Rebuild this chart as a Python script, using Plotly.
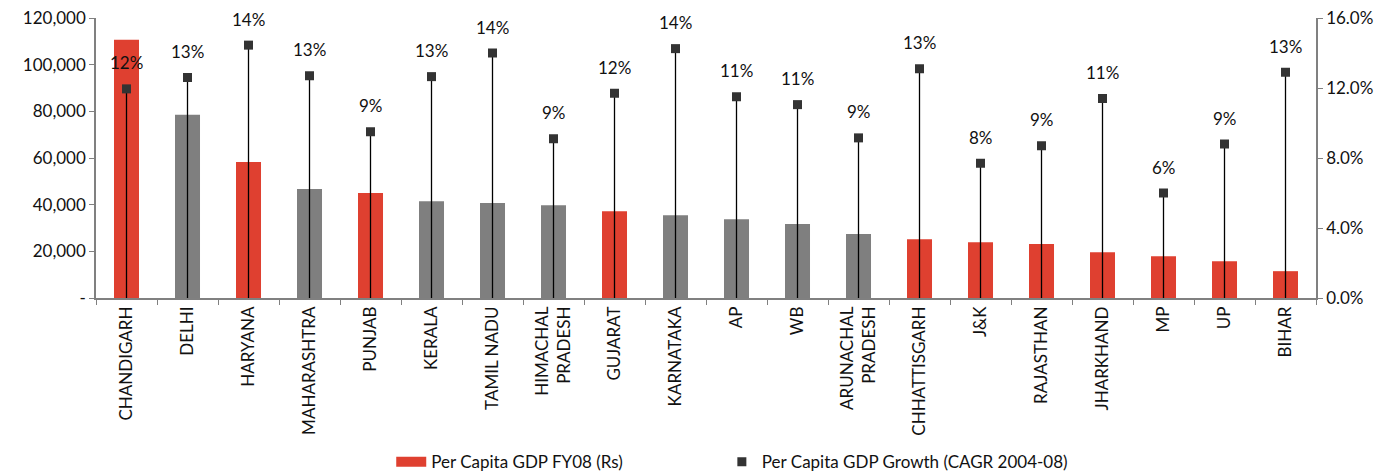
import plotly.graph_objects as go

states = ["CHANDIGARH", "DELHI", "HARYANA", "MAHARASHTRA", "PUNJAB", "KERALA",
          "TAMIL NADU", "HIMACHAL<br>PRADESH", "GUJARAT", "KARNATAKA", "AP", "WB",
          "ARUNACHAL<br>PRADESH", "CHHATTISGARH", "J&K", "RAJASTHAN", "JHARKHAND",
          "MP", "UP", "BIHAR"]

gdp_fy08 = [110700, 78500, 58300, 46700, 45000, 41500, 40700, 39800, 37200, 35500,
            33800, 31700, 27400, 25200, 23900, 23100, 19600, 17900, 15800, 11500]

growth_cagr = [11.95, 12.6, 14.45, 12.7, 9.5, 12.65, 14.0, 9.1, 11.7, 14.25,
               11.5, 11.05, 9.15, 13.1, 7.7, 8.7, 11.4, 6.0, 8.8, 12.9]

growth_labels = ["12%", "13%", "14%", "13%", "9%", "13%", "14%", "9%", "12%", "14%",
                 "11%", "11%", "9%", "13%", "8%", "9%", "11%", "6%", "9%", "13%"]

highlight = [True, False, True, False, True, False, False, False, True, False,
             False, False, False, True, True, True, True, True, True, True]

left_ticks = [0, 20000, 40000, 60000, 80000, 100000, 120000]
left_ticktext = ["-", "20,000", "40,000", "60,000", "80,000", "100,000", "120,000"]
right_ticks = [0, 4, 8, 12, 16]
right_ticktext = ["0.0%", "4.0%", "8.0%", "12.0%", "16.0%"]

RED = "#DF4030"
GREY = "#7F7F7F"
AXIS = "#808080"
FONT = "Lato, 'Noto Sans', sans-serif"

fig = go.Figure()

# GDP bars (legend swatch is supplied by a wide legend-only entry below)
fig.add_trace(go.Bar(
    x=states, y=gdp_fy08, name="Per Capita GDP FY08 (Rs)", showlegend=False,
    marker=dict(color=[RED if h else GREY for h in highlight], line=dict(width=0)),
    width=0.41, yaxis="y",
))
fig.add_trace(go.Scatter(
    x=[None], y=[None], mode="lines", name="Per Capita GDP FY08 (Rs)",
    line=dict(color=RED, width=12), yaxis="y", legend="legend",
))

# growth markers with drop lines to the axis
fig.add_trace(go.Scatter(
    x=states, y=growth_cagr, name="Per Capita GDP Growth (CAGR 2004-08)",
    mode="markers", yaxis="y2", legend="legend2",
    marker=dict(symbol="square", size=9, color="#333333"),
    error_y=dict(type="data", symmetric=False, array=[0] * len(growth_cagr),
                 arrayminus=growth_cagr, color="#000000", thickness=1.3, width=0),
))

for s, g, lab in zip(states, growth_cagr, growth_labels):
    fig.add_annotation(x=s, y=g, yref="y2", text=lab, showarrow=False,
                       yshift=26, font=dict(size=17, color="#111111", family=FONT))

legend_style = dict(orientation="h", xanchor="left", y=-0.586, yanchor="middle",
                    font=dict(size=17), itemwidth=30, bgcolor="rgba(0,0,0,0)")

fig.update_layout(
    width=1396, height=475,
    margin=dict(l=96, r=80, t=18, b=177, autoexpand=False),
    paper_bgcolor="white", plot_bgcolor="white",
    font=dict(family=FONT, size=17, color="#111111"),
    xaxis=dict(
        type="category", range=[-0.5, len(states) - 0.5], automargin=False,
        showline=True, linecolor=AXIS, linewidth=1.5,
        ticks="outside", tickson="boundaries", ticklen=5, tickcolor=AXIS,
        tickangle=-90, tickfont=dict(size=17), showgrid=False,
    ),
    yaxis=dict(
        range=[0, 120000], tickvals=left_ticks, ticktext=left_ticktext,
        automargin=False, showline=True, linecolor=AXIS, linewidth=1.5,
        ticks="outside", ticklen=5, tickcolor=AXIS, showgrid=False,
        zeroline=False, tickfont=dict(size=17),
    ),
    yaxis2=dict(
        range=[0, 16], tickvals=right_ticks, ticktext=right_ticktext,
        overlaying="y", side="right", automargin=False, showline=True,
        linecolor=AXIS, linewidth=1.5, ticks="outside", ticklen=5,
        tickcolor=AXIS, showgrid=False, zeroline=False, tickfont=dict(size=17),
    ),
    showlegend=True,
    legend=dict(x=0.242, **legend_style),
    legend2=dict(x=0.513, **legend_style),
)

fig.write_html("out.html")
